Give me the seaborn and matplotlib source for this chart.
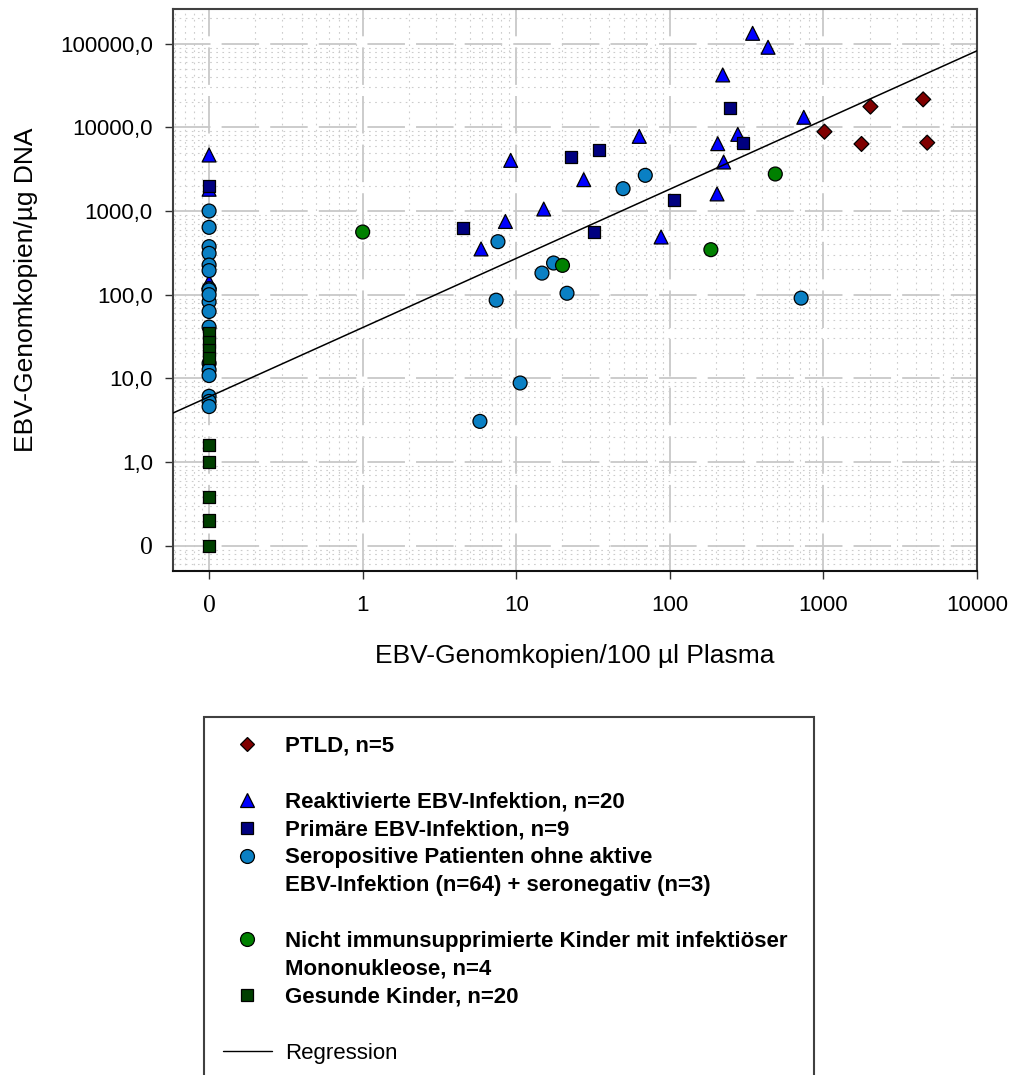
"""
EBV-Genomkopien im Plasma vs. EBV-Genomkopien pro ug DNA,
log-log Streudiagramm mit Regressionsgerade.
"""

import matplotlib

matplotlib.use("Agg")
import matplotlib.pyplot as plt
import numpy as np
import pandas as pd
import seaborn as sns
from matplotlib.lines import Line2D
from matplotlib.ticker import FixedLocator, LogLocator, NullFormatter

# Werte. 0 wird auf der Position ZERO_POS gezeichnet.
PTLD_X = [1016, 2024, 1770, 4460, 4740]
PTLD_Y = [8870, 17700, 6330, 21600, 6560]

REAKT_X = [0, 0, 0, 5.9, 8.5, 9.2, 15.1, 27.5, 63.2, 87.7,
           346, 436, 221, 745, 277, 205, 224, 203]
REAKT_Y = [4670, 1820, 143, 352, 750, 4030, 1056, 2370, 7800, 489,
           133000, 90600, 42300, 13200, 8240, 6380, 3850, 1600]

PRIM_X = [0, 4.47, 22.7, 34.4, 31.9, 107, 247, 298]
PRIM_Y = [1990, 620, 4430, 5410, 561, 1350, 16900, 6560]

SERO_X = [0, 0, 0, 0, 0, 0, 0, 0, 0, 0, 0, 0, 0, 0, 0, 0, 0, 0,
          7.6, 7.4, 14.7, 17.5, 21.4, 49.6, 69.2, 5.8, 10.6, 716]
SERO_Y = [1000, 638, 375, 312, 226, 194, 118, 114, 82, 63, 41, 15.1,
          12.6, 10.8, 6.1, 5.3, 4.6, 100,
          430, 86, 181, 239, 104, 1850, 2670, 3.06, 8.8, 91]

MONO_X = [1.0, 20, 486, 185]
MONO_Y = [561, 224, 2770, 345]

GESUND_X = [0, 0, 0, 0, 0, 0, 0, 0, 0]
GESUND_Y = [34.5, 27.4, 21.8, 17.4, 1.6, 1.0, 0.38, 0.2, 0]

# Regressionsgerade in log10-Koordinaten
REG_SLOPE = 0.827
REG_INTERCEPT = 1.607

ZERO_POS = 0.1

X_TICKS = [0.1, 1, 10, 100, 1000, 10000]
X_TICK_LABELS = ["0", "1", "10", "100", "1000", "10000"]
Y_TICKS = [0.1, 1, 10, 100, 1000, 10000, 100000]
Y_TICK_LABELS = ["0", "1,0", "10,0", "100,0", "1000,0", "10000,0",
                 "100000,0"]

GRUPPEN = ["reakt", "prim", "sero", "mono", "gesund", "ptld"]
FARBEN = {
    "ptld": "#800000",
    "reakt": "#0000ff",
    "prim": "#000080",
    "sero": "#0a80c4",
    "mono": "#008000",
    "gesund": "#003f00",
}
MARKER = {
    "ptld": "D",
    "reakt": "^",
    "prim": "s",
    "sero": "o",
    "mono": "o",
    "gesund": "s",
}
GROESSEN = {
    "ptld": 58,
    "reakt": 100,
    "prim": 75,
    "sero": 100,
    "mono": 100,
    "gesund": 75,
}

LEGENDE = [
    ("ptld", "PTLD, n=5"),
    (None, " "),
    ("reakt", "Reaktivierte EBV-Infektion, n=20"),
    ("prim", "Primäre EBV-Infektion, n=9"),
    ("sero", "Seropositive Patienten ohne aktive"),
    (None, "EBV-Infektion (n=64) + seronegativ (n=3)"),
    (None, " "),
    ("mono", "Nicht immunsupprimierte Kinder mit infektiöser"),
    (None, "Mononukleose, n=4"),
    ("gesund", "Gesunde Kinder, n=20"),
    (None, " "),
    ("linie", "Regression"),
    (None, " "),
]


def daten_tabelle():
    werte = {
        "reakt": (REAKT_X, REAKT_Y),
        "prim": (PRIM_X, PRIM_Y),
        "sero": (SERO_X, SERO_Y),
        "mono": (MONO_X, MONO_Y),
        "gesund": (GESUND_X, GESUND_Y),
        "ptld": (PTLD_X, PTLD_Y),
    }
    teile = []
    for gruppe in GRUPPEN:
        xs, ys = werte[gruppe]
        teile.append(pd.DataFrame({"x": xs, "y": ys, "gruppe": gruppe}))
    df = pd.concat(teile, ignore_index=True)
    # 0 liegt auf der log-Achse eine Dekade unter 1
    df["x"] = df["x"].replace(0, ZERO_POS)
    df["y"] = df["y"].replace(0, ZERO_POS)
    return df


sns.set_style("white")
plt.rcParams["font.family"] = ["Liberation Sans", "DejaVu Sans"]
plt.rcParams["lines.scale_dashes"] = False
plt.rcParams["text.color"] = "black"
plt.rcParams["axes.labelcolor"] = "black"
plt.rcParams["xtick.color"] = "black"
plt.rcParams["ytick.color"] = "black"

fig = plt.figure(figsize=(10.12, 10.75), dpi=100)
ax = fig.add_axes([173 / 1012, 1 - 571.3 / 1075,
                   (977 - 173) / 1012, (571.3 - 8.7) / 1075])

df = daten_tabelle()
sns.scatterplot(
    data=df,
    x="x",
    y="y",
    hue="gruppe",
    style="gruppe",
    size="gruppe",
    palette=FARBEN,
    markers=MARKER,
    sizes=GROESSEN,
    edgecolor="black",
    linewidth=0.9,
    legend=False,
    ax=ax,
    zorder=3,
)

ax.set_xscale("log")
ax.set_yscale("log")
ax.set_xlim(10 ** -1.235, 10 ** 4.0)
ax.set_ylim(10 ** -1.306, 10 ** 5.418)

# Regressionsgerade
x_linie = np.array(ax.get_xlim())
y_linie = 10 ** (REG_INTERCEPT + REG_SLOPE * np.log10(x_linie))
ax.plot(x_linie, y_linie, color="black", linewidth=1.1, zorder=4)

ax.xaxis.set_major_locator(FixedLocator(X_TICKS))
ax.yaxis.set_major_locator(FixedLocator(Y_TICKS))
ax.set_xticklabels(X_TICK_LABELS)
ax.set_yticklabels(Y_TICK_LABELS)
ax.xaxis.set_minor_locator(LogLocator(base=10, subs=np.arange(2, 10),
                                      numticks=100))
ax.yaxis.set_minor_locator(LogLocator(base=10, subs=np.arange(2, 10),
                                      numticks=100))
ax.xaxis.set_minor_formatter(NullFormatter())
ax.yaxis.set_minor_formatter(NullFormatter())

for etikett in ax.get_xticklabels() + ax.get_yticklabels():
    etikett.set_fontsize(16)
    etikett.set_color("black")
    if etikett.get_text() == "0":
        etikett.set_family(["Liberation Serif", "DejaVu Serif"])
        etikett.set_fontsize(18.5)

ax.tick_params(which="major", direction="out", length=6, width=1,
               color="#303030", bottom=True, left=True)
ax.tick_params(axis="y", which="major", pad=8.5)
ax.tick_params(axis="x", which="major", pad=11)
ax.tick_params(which="minor", length=0)

ax.grid(which="major", color="#c8c8c8", linestyle=(0, (27, 8)),
        linewidth=1.3)
ax.grid(which="minor", color="#cccccc", linestyle=(0, (1.2, 3.2)),
        linewidth=0.8)
ax.set_axisbelow(True)

for seite in ax.spines.values():
    seite.set_color("#404040")
    seite.set_linewidth(1.5)
ax.spines["bottom"].set_color("#111111")

ax.set_xlabel("EBV-Genomkopien/100 µl Plasma", fontsize=19, va="center",
              color="black")
ax.xaxis.set_label_coords(0.5, (571.3 - 655.8) / 562.6)
ax.set_ylabel("EBV-Genomkopien/µg DNA", fontsize=19, va="center",
              color="black")
ax.yaxis.set_label_coords((25.8 - 173) / 804, 0.5)

# Legende unterhalb
griffe = []
texte = []
for gruppe, text in LEGENDE:
    if gruppe is None:
        griffe.append(Line2D([], [], linestyle="none"))
    elif gruppe == "linie":
        griffe.append(Line2D([], [], color="black", linewidth=1.0))
    else:
        griffe.append(
            Line2D([], [], linestyle="none", marker=MARKER[gruppe],
                   markerfacecolor=FARBEN[gruppe], markeredgecolor="black",
                   markeredgewidth=0.9,
                   markersize=np.sqrt(GROESSEN[gruppe]))
        )
    texte.append(text)

legende = fig.legend(
    griffe,
    texte,
    loc="upper left",
    bbox_to_anchor=(204 / 1012, 1 - 717 / 1075, (814 - 204) / 1012, 0),
    mode="expand",
    borderaxespad=0,
    borderpad=0.85,
    handlelength=2.2,
    handletextpad=0.6,
    labelspacing=0.31,
    fancybox=False,
    framealpha=1,
    prop={"family": "Liberation Sans", "size": 16, "weight": "bold"},
)
legende.get_frame().set_edgecolor("#404040")
legende.get_frame().set_linewidth(1.5)
for t in legende.get_texts():
    t.set_color("black")
    if t.get_text() == "Regression":
        t.set_fontweight("normal")

fig.savefig("out.png", dpi=100)
plt.close(fig)
